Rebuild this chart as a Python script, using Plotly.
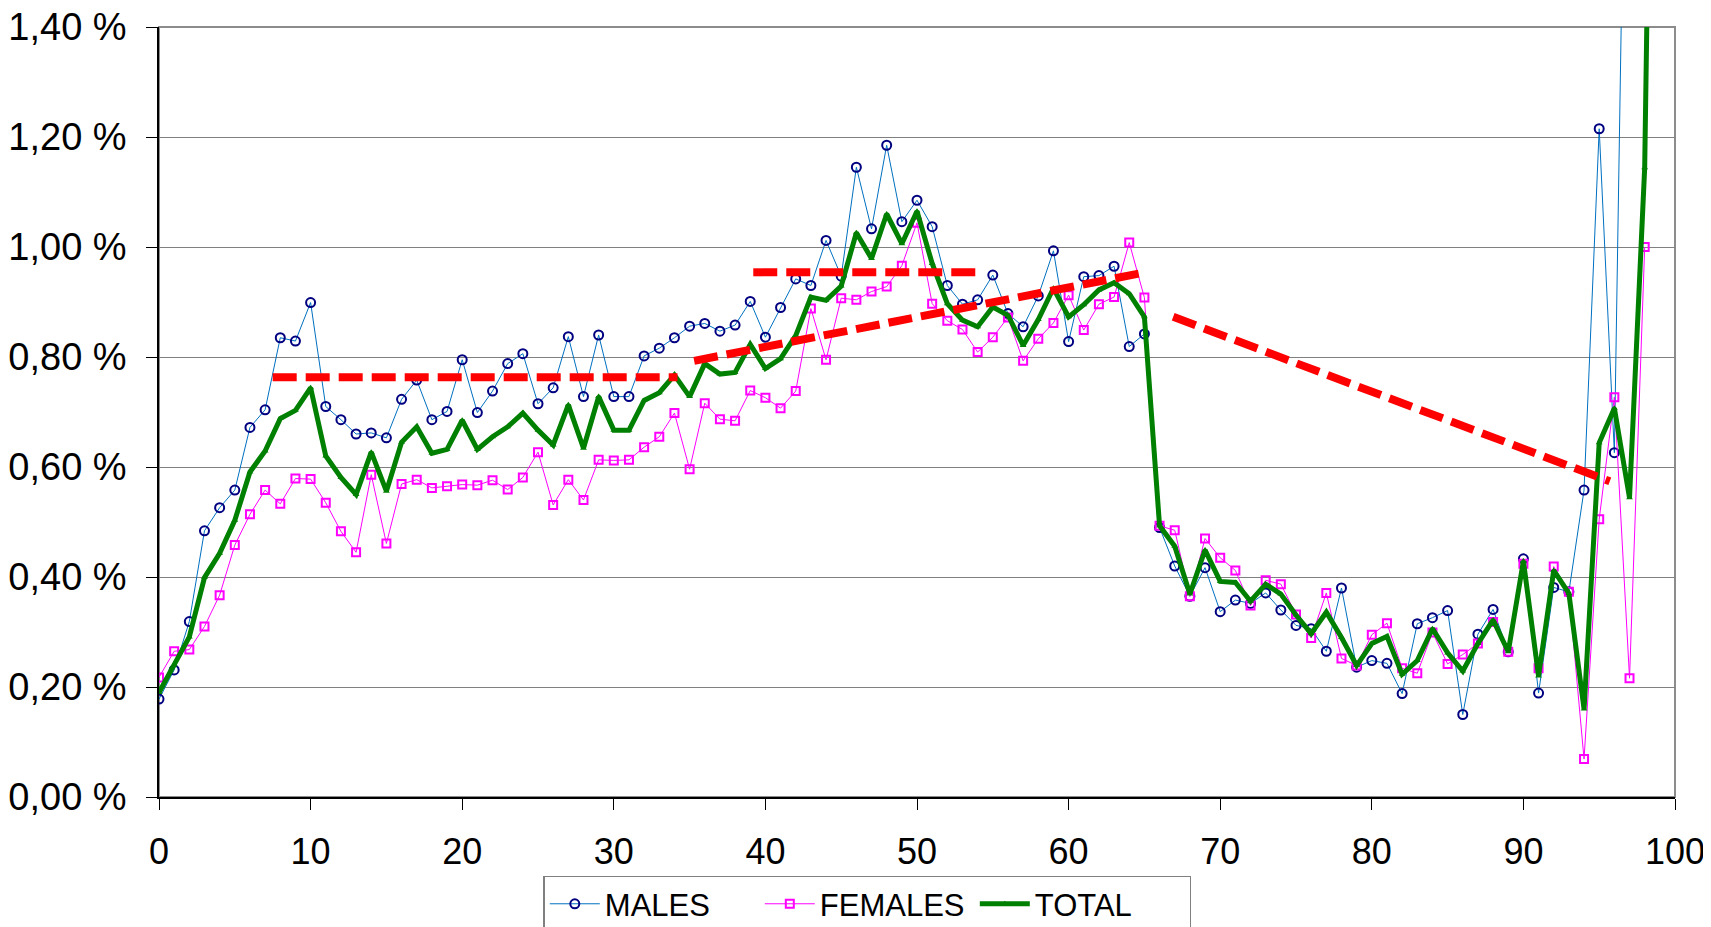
import plotly.graph_objects as go

ages = list(range(100))

males = [0.178, 0.231, 0.319, 0.484, 0.526, 0.558, 0.672, 0.704, 0.835, 0.829,
         0.899, 0.710, 0.686, 0.660, 0.662, 0.653, 0.723, 0.758, 0.686, 0.701,
         0.795, 0.699, 0.738, 0.788, 0.806, 0.715, 0.744, 0.837, 0.728, 0.840,
         0.728, 0.728, 0.802, 0.816, 0.835, 0.856, 0.861, 0.847, 0.858, 0.901,
         0.836, 0.890, 0.942, 0.930, 1.012, 0.947, 1.145, 1.033, 1.185, 1.046,
         1.085, 1.037, 0.930, 0.896, 0.904, 0.949, 0.879, 0.855, 0.911, 0.993,
         0.828, 0.946, 0.948, 0.965, 0.819, 0.842, 0.490, 0.420, 0.365, 0.417,
         0.337, 0.358, 0.352, 0.371, 0.340, 0.312, 0.306, 0.265, 0.380, 0.236,
         0.248, 0.243, 0.188, 0.315, 0.326, 0.339, 0.150, 0.296, 0.341, 0.264,
         0.433, 0.189, 0.381, 0.373, 0.558, 1.215, 0.626, 2.350, None, None]

females = [0.2175, 0.265, 0.268, 0.310, 0.367, 0.458, 0.514, 0.558, 0.533, 0.579,
           0.578, 0.535, 0.483, 0.445, 0.586, 0.461, 0.569, 0.577, 0.562, 0.565,
           0.568, 0.567, 0.576, 0.559, 0.581, 0.627, 0.531, 0.577, 0.540, 0.613,
           0.612, 0.613, 0.636, 0.655, 0.698, 0.596, 0.716, 0.687, 0.684, 0.739,
           0.726, 0.707, 0.738, 0.888, 0.795, 0.907, 0.904, 0.919, 0.928, 0.966,
           1.044, 0.897, 0.866, 0.850, 0.809, 0.836, 0.872, 0.793, 0.833, 0.862,
           0.9125, 0.849, 0.896, 0.909, 1.008, 0.908, 0.493, 0.485, 0.365, 0.470,
           0.435, 0.412, 0.348, 0.394, 0.387, 0.332, 0.289, 0.371, 0.252, 0.239,
           0.295, 0.316, 0.234, 0.225, 0.299, 0.242, 0.259, 0.279, 0.318, 0.264,
           0.424, 0.234, 0.419, 0.373, 0.069, 0.505, 0.727, 0.216, 1.000, None]

total = [0.190, 0.240, 0.291, 0.399, 0.443, 0.503, 0.591, 0.629, 0.688, 0.703,
         0.744, 0.620, 0.581, 0.550, 0.627, 0.556, 0.645, 0.673, 0.625, 0.632,
         0.685, 0.632, 0.655, 0.673, 0.698, 0.667, 0.640, 0.713, 0.634, 0.728,
         0.667, 0.667, 0.721, 0.735, 0.767, 0.728, 0.788, 0.769, 0.772, 0.823,
         0.779, 0.797, 0.839, 0.909, 0.903, 0.929, 1.026, 0.979, 1.060, 1.006,
         1.065, 0.970, 0.897, 0.867, 0.855, 0.891, 0.876, 0.821, 0.868, 0.925,
         0.873, 0.895, 0.922, 0.935, 0.915, 0.873, 0.493, 0.456, 0.369, 0.449,
         0.392, 0.390, 0.356, 0.387, 0.369, 0.331, 0.297, 0.336, 0.290, 0.239,
         0.279, 0.292, 0.223, 0.248, 0.306, 0.262, 0.229, 0.279, 0.322, 0.264,
         0.429, 0.220, 0.412, 0.370, 0.160, 0.644, 0.707, 0.544, 1.144, 3.000]

# red dashed trend segments (age start/end, value start/end)
trend_x = [[7.5, 34.2], [39.2, 54.0], [35.3, 64.9], [66.9, 95.7]]
trend_y = [[0.763, 0.763], [0.954, 0.954], [0.793, 0.953], [0.873, 0.574]]

x_ticks = [0, 10, 20, 30, 40, 50, 60, 70, 80, 90, 100]
y_ticks = [0.0, 0.2, 0.4, 0.6, 0.8, 1.0, 1.2, 1.4]
y_ticktext = ["0,00 %", "0,20 %", "0,40 %", "0,60 %", "0,80 %", "1,00 %", "1,20 %", "1,40 %"]

fig = go.Figure()

fig.add_trace(go.Scatter(
    x=ages, y=males, name="MALES", mode="lines+markers",
    line=dict(color="#0070C0", width=1),
    marker=dict(symbol="circle-open", size=9, color="#000080", line=dict(width=2, color="#000080")),
    connectgaps=False))
fig.add_trace(go.Scatter(
    x=ages, y=females, name="FEMALES", mode="lines+markers",
    line=dict(color="#FF00FF", width=1),
    marker=dict(symbol="square-open", size=8, color="#FF00FF", line=dict(width=2, color="#FF00FF")),
    connectgaps=False))
fig.add_trace(go.Scatter(
    x=ages, y=total, name="TOTAL", mode="lines+markers",
    line=dict(color="#008000", width=5),
    marker=dict(symbol="triangle-up", size=6, color="#008000")))

for tx, ty in zip(trend_x, trend_y):
    fig.add_trace(go.Scatter(
        x=tx, y=ty, mode="lines", showlegend=False, hoverinfo="skip",
        line=dict(color="#FF0000", width=8, dash="24px,9px")))

fig.update_layout(
    width=1703, height=919,
    margin=dict(l=151, r=36, t=19, b=130, autoexpand=False),
    paper_bgcolor="white", plot_bgcolor="white",
    showlegend=True,
    legend=dict(
        orientation="h", x=0.2535, y=-0.1021, xanchor="left", yanchor="top",
        bordercolor="#808080", borderwidth=1.5, bgcolor="white",
        font=dict(family="Liberation Sans, Arial, sans-serif", size=31, color="black"),
        itemwidth=50, entrywidth=150, entrywidthmode="pixels", traceorder="normal"),
    xaxis=dict(
        range=[0, 100], tickvals=x_ticks, ticks="outside", ticklen=11, tickcolor="black",
        showline=True, linecolor="black", linewidth=1.5, showgrid=False, zeroline=False,
        tickfont=dict(family="Liberation Sans, Arial, sans-serif", size=36, color="black"),
        ticklabelstandoff=11, ticklabeloverflow="allow"),
    yaxis=dict(
        range=[0, 1.4], tickvals=y_ticks, ticktext=y_ticktext, ticks="outside", ticklen=11,
        tickcolor="black", showline=True, linecolor="black", linewidth=1.5,
        showgrid=True, gridcolor="#808080", gridwidth=1, zeroline=False,
        tickfont=dict(family="Liberation Sans, Arial, sans-serif", size=38, color="black"),
        ticklabelstandoff=12, ticklabeloverflow="allow"),
    shapes=[dict(type="rect", xref="paper", yref="paper", x0=0, y0=0, x1=1, y1=1,
                 line=dict(color="#8c8c8c", width=2), layer="below")],
)

fig.write_html("out.html")
